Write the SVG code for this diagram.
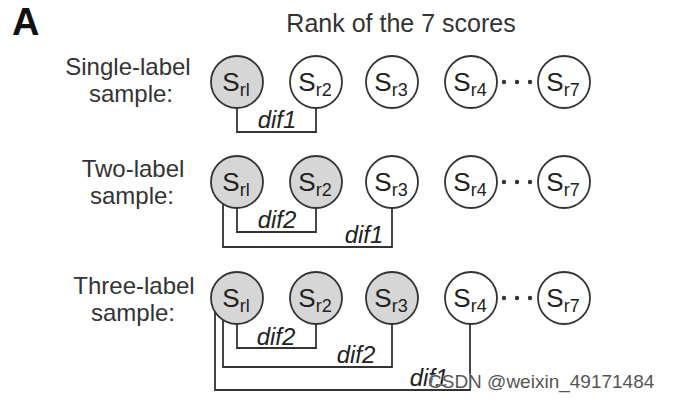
<svg xmlns="http://www.w3.org/2000/svg" width="673" height="401" viewBox="0 0 673 401">
<style>
text{font-family:"Liberation Sans",Arial,sans-serif;fill:#333}
.lbl{font-size:24px;text-anchor:middle}
.title{font-size:25px;text-anchor:middle}
.big{font-size:38px;font-weight:bold;fill:#111}
.node circle{stroke:#333;stroke-width:1.8}
.on circle{fill:#d6d6d6}
.off circle{fill:#fff}
.node text{font-size:26px;text-anchor:middle;fill:#222}
.sub{font-size:18px}
.conn path{fill:none;stroke:#333;stroke-width:1.8}
.dif{font-size:24px;font-style:italic;text-anchor:middle;fill:#222}
.dot{fill:#333}
.wm{font-size:19px;fill:#555;stroke:#fff;stroke-width:0.6;paint-order:stroke}
</style>
<rect width="673" height="401" fill="#fff"/>
<text class="big" x="12" y="35">A</text>
<text class="title" x="401" y="32">Rank of the 7 scores</text>

<g id="labels">
<text class="lbl" x="128" y="75">Single-label</text>
<text class="lbl" x="131" y="102">sample:</text>
<text class="lbl" x="133" y="177">Two-label</text>
<text class="lbl" x="132" y="204">sample:</text>
<text class="lbl" x="134" y="294">Three-label</text>
<text class="lbl" x="133" y="321">sample:</text>
</g>

<g id="row1-sr1" class="node on"><circle cx="237" cy="82" r="26"/><text x="236" y="91">S<tspan class="sub" dy="5">rl</tspan></text></g>
<g id="row1-sr2" class="node off"><circle cx="316" cy="82" r="26"/><text x="315" y="91">S<tspan class="sub" dy="5">r2</tspan></text></g>
<g id="row1-sr3" class="node off"><circle cx="392" cy="82" r="26"/><text x="391" y="91">S<tspan class="sub" dy="5">r3</tspan></text></g>
<g id="row1-sr4" class="node off"><circle cx="471" cy="82" r="26"/><text x="470" y="91">S<tspan class="sub" dy="5">r4</tspan></text></g>
<g id="row1-sr7" class="node off"><circle cx="564" cy="82" r="26"/><text x="563" y="91">S<tspan class="sub" dy="5">r7</tspan></text></g>

<g id="row2-sr1" class="node on"><circle cx="237" cy="182" r="26"/><text x="236" y="191">S<tspan class="sub" dy="5">rl</tspan></text></g>
<g id="row2-sr2" class="node on"><circle cx="316" cy="182" r="26"/><text x="315" y="191">S<tspan class="sub" dy="5">r2</tspan></text></g>
<g id="row2-sr3" class="node off"><circle cx="392" cy="182" r="26"/><text x="391" y="191">S<tspan class="sub" dy="5">r3</tspan></text></g>
<g id="row2-sr4" class="node off"><circle cx="471" cy="182" r="26"/><text x="470" y="191">S<tspan class="sub" dy="5">r4</tspan></text></g>
<g id="row2-sr7" class="node off"><circle cx="564" cy="182" r="26"/><text x="563" y="191">S<tspan class="sub" dy="5">r7</tspan></text></g>

<g id="row3-sr1" class="node on"><circle cx="237" cy="298" r="26"/><text x="236" y="307">S<tspan class="sub" dy="5">rl</tspan></text></g>
<g id="row3-sr2" class="node on"><circle cx="316" cy="298" r="26"/><text x="315" y="307">S<tspan class="sub" dy="5">r2</tspan></text></g>
<g id="row3-sr3" class="node on"><circle cx="392" cy="298" r="26"/><text x="391" y="307">S<tspan class="sub" dy="5">r3</tspan></text></g>
<g id="row3-sr4" class="node off"><circle cx="471" cy="298" r="26"/><text x="470" y="307">S<tspan class="sub" dy="5">r4</tspan></text></g>
<g id="row3-sr7" class="node off"><circle cx="564" cy="298" r="26"/><text x="563" y="307">S<tspan class="sub" dy="5">r7</tspan></text></g>

<g id="connectors" class="conn">
<path d="M237,108 V132 H316 V108"/>
<path d="M237,208 V232 H316 V208"/>
<path d="M223,204 V247 H392 V208"/>
<path d="M237,324 V348 H316 V324"/>
<path d="M223,320 V367 H392 V324"/>
<path d="M215,312 V390 H470 V324"/>
<circle class="dot" cx="504" cy="82" r="2.2"/><circle class="dot" cx="517" cy="82" r="2.2"/><circle class="dot" cx="530" cy="82" r="2.2"/>
<circle class="dot" cx="504" cy="182" r="2.2"/><circle class="dot" cx="517" cy="182" r="2.2"/><circle class="dot" cx="530" cy="182" r="2.2"/>
<circle class="dot" cx="504" cy="298" r="2.2"/><circle class="dot" cx="517" cy="298" r="2.2"/><circle class="dot" cx="530" cy="298" r="2.2"/>
<text class="dif" x="277" y="128">dif1</text>
<text class="dif" x="277" y="228">dif2</text>
<text class="dif" x="364" y="243">dif1</text>
<text class="dif" x="276" y="345">dif2</text>
<text class="dif" x="356" y="363">dif2</text>
<text class="dif" x="429" y="386">dif1</text>
</g>
<text class="wm" x="428" y="388">CSDN @weixin_49171484</text>
</svg>
